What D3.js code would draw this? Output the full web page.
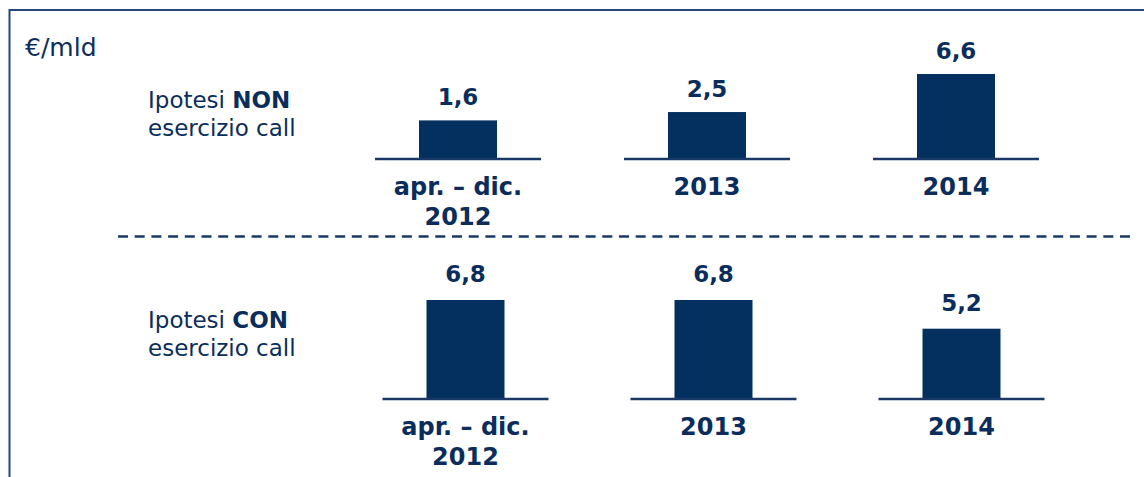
<!DOCTYPE html>
<html>
<head>
<meta charset="utf-8">
<script src="https://cdn.jsdelivr.net/npm/d3@7"></script>
<style>
  html, body { margin: 0; padding: 0; background: #fff; overflow: hidden; }
  svg { display: block; font-family: "DejaVu Sans", Verdana, sans-serif; }
</style>
</head>
<body>
<svg id="chart" width="1144" height="477"></svg>
<script>
  // data (€/mld)
  var categories = ['apr12', '2013', '2014'];
  var categoryLabels = [['apr. \u2013 dic.', '2012'], ['2013'], ['2014']];
  var nonValues = [1.6, 2.5, 6.6];   // Ipotesi NON esercizio call
  var conValues = [6.8, 6.8, 5.2];   // Ipotesi CON esercizio call
  var unitLabel = '\u20ac/mld';

  var navy = '#03305f';
  var textNavy = '#0b2d5b';

  var svg = d3.select('#chart');

  // outer frame, only top and left edges are in view
  svg.append('rect')
      .attr('x', 9.5)
      .attr('y', 10)
      .attr('width', 1200)
      .attr('height', 600)
      .attr('fill', 'none')
      .attr('stroke', '#24497a')
      .attr('stroke-width', 2);

  svg.append('text')
      .attr('x', 25)
      .attr('y', 56)
      .attr('fill', textNavy)
      .attr('font-size', 25)
      .text(unitLabel);

  var panels = [
    {values: nonValues, word: 'NON', base: 159, domain: [-2.56, 6.6], hMax: 85,
      xRange: [458, 956], labelY: 108, valueGap: 15},
    {values: conValues, word: 'CON', base: 399, domain: [1.28, 6.8], hMax: 99,
      xRange: [465.5, 961.5], labelY: 328, valueGap: 18}
  ];

  var barWidth = 78;
  var baseHalf = 83;

  var drawPanel = function (p) {
    var g = svg.append('g');
    var x = d3.scalePoint().domain(categories).range(p.xRange);
    var y = d3.scaleLinear().domain(p.domain).range([p.base, p.base - p.hMax]);
    var rows = categories.map(function (c, i) {
      return {key: c, value: p.values[i], label: categoryLabels[i]};
    });

    var label = g.append('text')
        .attr('x', 148)
        .attr('y', p.labelY)
        .attr('fill', textNavy)
        .attr('font-size', 23);
    label.append('tspan').text('Ipotesi ');
    label.append('tspan').attr('font-weight', 'bold').text(p.word);
    g.append('text')
        .attr('x', 148)
        .attr('y', p.labelY + 28)
        .attr('fill', textNavy)
        .attr('font-size', 23)
        .text('esercizio call');

    g.selectAll('rect.bar').data(rows).enter().append('rect')
        .attr('class', 'bar')
        .attr('x', function (d) { return x(d.key) - barWidth / 2; })
        .attr('y', function (d) { return y(d.value); })
        .attr('width', barWidth)
        .attr('height', function (d) { return y(p.domain[0]) - y(d.value); })
        .attr('fill', navy);

    g.selectAll('line.base').data(rows).enter().append('line')
        .attr('class', 'base')
        .attr('x1', function (d) { return x(d.key) - baseHalf; })
        .attr('x2', function (d) { return x(d.key) + baseHalf; })
        .attr('y1', p.base)
        .attr('y2', p.base)
        .attr('stroke', '#1a3866')
        .attr('stroke-width', 2.5);

    g.selectAll('text.value').data(rows).enter().append('text')
        .attr('class', 'value')
        .attr('x', function (d) { return x(d.key); })
        .attr('y', function (d) { return y(d.value) - p.valueGap; })
        .attr('text-anchor', 'middle')
        .attr('font-weight', 'bold')
        .attr('font-size', 23)
        .attr('fill', textNavy)
        .text(function (d) { return d3.format('.1f')(d.value).replace('.', ','); });

    var cat = g.selectAll('text.cat').data(rows).enter().append('text')
        .attr('class', 'cat')
        .attr('x', function (d) { return x(d.key); })
        .attr('y', p.base + 36)
        .attr('text-anchor', 'middle')
        .attr('font-weight', 'bold')
        .attr('font-size', 24)
        .attr('fill', textNavy);
    cat.selectAll('tspan').data(function (d) {
      return d.label.map(function (l) { return {text: l, cx: x(d.key)}; });
    }).enter().append('tspan')
        .attr('x', function (d) { return d.cx; })
        .attr('dy', function (d, i) { return i ? 30 : 0; })
        .text(function (d) { return d.text; });
  };

  panels.forEach(drawPanel);

  // divider between the two hypotheses
  svg.append('line')
      .attr('x1', 118)
      .attr('x2', 1132)
      .attr('y1', 236.5)
      .attr('y2', 236.5)
      .attr('stroke', '#1a3866')
      .attr('stroke-width', 2.5)
      .attr('stroke-dasharray', '10,6.7');
</script>
</body>
</html>
